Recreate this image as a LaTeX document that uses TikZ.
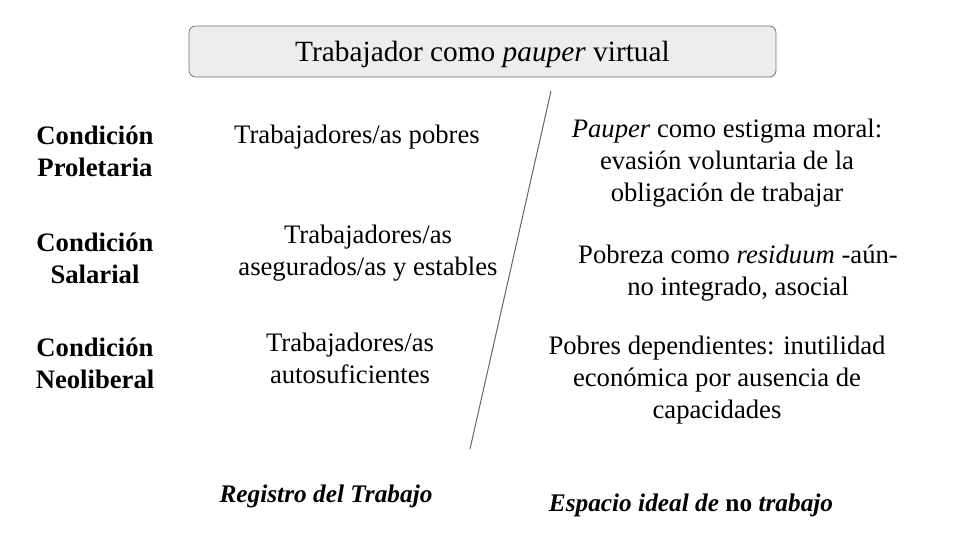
\documentclass[tikz,border=0pt]{standalone}
\usepackage{fontspec}
\setmainfont{Liberation Serif}
\begin{document}
\begin{tikzpicture}[x=0.75pt,y=-0.75pt,
  body/.style={font=\fontsize{20pt}{24pt}\selectfont, align=center, inner sep=0pt, text=black},
  lab/.style={font=\fontsize{20pt}{24pt}\selectfont\bfseries, align=center, inner sep=0pt},
  foot/.style={font=\fontsize{19pt}{23pt}\selectfont\bfseries\itshape, inner sep=0pt},
  titlebox/.style={draw=black!55, fill=black!7, rounded corners=5pt, line width=0.6pt}]
\useasboundingbox (0,0) rectangle (960,540);
\fill[white] (0,0) rectangle (960,540);
\draw[titlebox] (189,26) rectangle (776,77);
\node[font=\fontsize{22pt}{26pt}\selectfont, inner sep=0pt] (title) at (482.5,54) {Trabajador como \textit{pauper} virtual};

\node[lab] (c1) at (95,151) {Condición\\Proletaria};
\node[lab] (c2) at (95,258) {Condición\\Salarial};
\node[lab] (c3) at (95,363) {Condición\\Neoliberal};

\node[body] (t1) at (357,137) {Trabajadores/as pobres};
\node[body] (t2) at (368,253) {Trabajadores/as\\asegurados/as y estables};
\node[body] (t3) at (350,358) {Trabajadores/as\\autosuficientes};

\node[body] (r1) at (727,163) {\textit{Pauper} como estigma moral:\\evasión voluntaria de la\\obligación de trabajar};
\node[body] (r2) at (738,273) {Pobreza como \textit{residuum} -aún-\\no integrado, asocial};
\node[body] (r3) at (717,380) {Pobres dependientes: inutilidad\\económica por ausencia de\\capacidades};

\coordinate (ltop) at (551,91);
\coordinate (lbot) at (470,449);
\draw[black!60, line width=0.75pt] (ltop) -- (lbot);

\node[foot] (f1) at (326,496) {Registro del Trabajo};
\node[foot] (f2) at (691,505) {Espacio ideal de \textup{no} trabajo};
\end{tikzpicture}
\end{document}
